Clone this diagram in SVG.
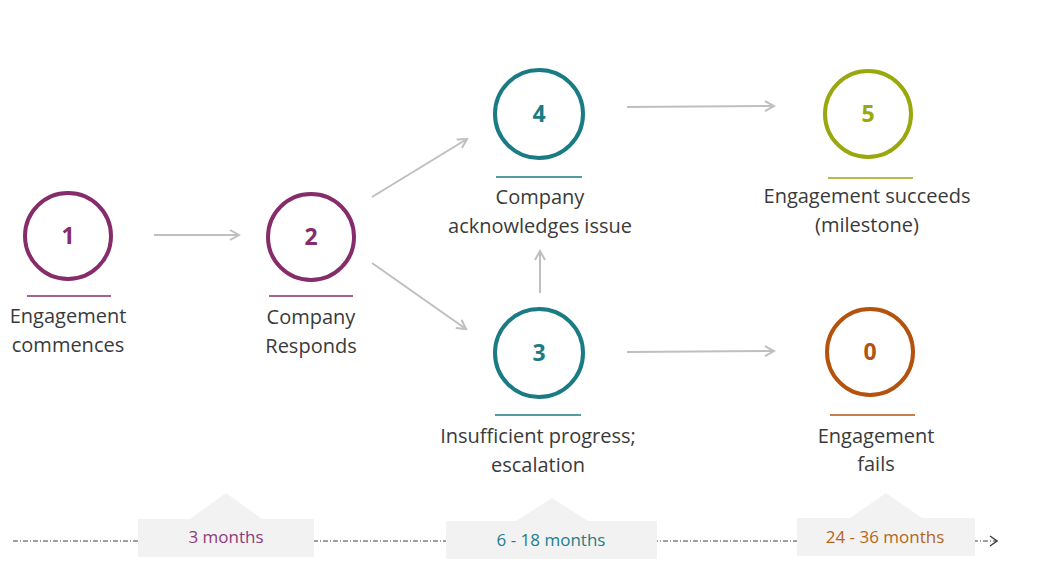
<svg xmlns="http://www.w3.org/2000/svg" width="1041" height="568" viewBox="0 0 1041 568">
<defs>
<marker id="ah" viewBox="0 0 12 12" refX="10" refY="6" markerWidth="12" markerHeight="12" markerUnits="userSpaceOnUse" orient="auto">
<path d="M1,1 L10,6 L1,11" fill="none" stroke="#BFBFBF" stroke-width="2"/>
</marker>
<marker id="ahd" viewBox="0 0 10 12" refX="9" refY="6" markerWidth="10" markerHeight="12" markerUnits="userSpaceOnUse" orient="auto">
<path d="M2,1 L9,6 L2,11" fill="none" stroke="#404040" stroke-width="1.5"/>
</marker>
</defs>
<style>
.lbl{font-family:"Open Sans","Noto Sans",sans-serif;font-size:20px;fill:#3A3A3A;text-anchor:middle}
.num{font-family:"Open Sans","Noto Sans",sans-serif;font-size:23px;font-weight:bold;text-anchor:middle}
.circ{fill:#fff;stroke-width:4}
.ul{stroke-width:1.5}
.conn{stroke:#BFBFBF;stroke-width:2;fill:none;marker-end:url(#ah)}
.tl{font-family:"Open Sans","Noto Sans",sans-serif;font-size:17px;text-anchor:middle}
.box{fill:#F2F2F2}
</style>
<rect width="1041" height="568" fill="#fff"/>
<g id="connectors">
<line class="conn" x1="154" y1="235" x2="239" y2="235"/>
<line class="conn" x1="372" y1="197" x2="467" y2="139"/>
<line class="conn" x1="372" y1="263" x2="466" y2="329"/>
<line class="conn" x1="540" y1="293" x2="540" y2="251"/>
<line class="conn" x1="627" y1="107" x2="774" y2="106"/>
<line class="conn" x1="627" y1="352" x2="774" y2="351"/>
</g>
<g id="node1">
<circle class="circ" cx="68" cy="236" r="43" stroke="#862C6B"/>
<text class="num" x="68" y="244" fill="#862C6B">1</text>
<line class="ul" x1="27" y1="296" x2="111" y2="296" stroke="#862C6B"/>
<text class="lbl" x="68" y="323">Engagement</text>
<text class="lbl" x="68" y="352">commences</text>
</g>
<g id="node2">
<circle class="circ" cx="311" cy="237" r="43" stroke="#862C6B"/>
<text class="num" x="311" y="245" fill="#862C6B">2</text>
<line class="ul" x1="269" y1="296" x2="353" y2="296" stroke="#862C6B"/>
<text class="lbl" x="311" y="324">Company</text>
<text class="lbl" x="311" y="353">Responds</text>
</g>
<g id="node4">
<circle class="circ" cx="539" cy="114" r="44" stroke="#1A7B84"/>
<text class="num" x="539" y="122" fill="#1A7B84">4</text>
<line class="ul" x1="496" y1="177" x2="582" y2="177" stroke="#1A7B84"/>
<text class="lbl" x="540" y="204">Company</text>
<text class="lbl" x="540" y="233">acknowledges issue</text>
</g>
<g id="node5">
<circle class="circ" cx="868" cy="114" r="43" stroke="#99A80C"/>
<text class="num" x="868" y="122" fill="#99A80C">5</text>
<line class="ul" x1="828" y1="178" x2="913" y2="178" stroke="#99A80C"/>
<text class="lbl" x="867" y="203">Engagement succeeds</text>
<text class="lbl" x="867" y="232">(milestone)</text>
</g>
<g id="node3">
<circle class="circ" cx="539" cy="353" r="44" stroke="#1A7B84"/>
<text class="num" x="539" y="361" fill="#1A7B84">3</text>
<line class="ul" x1="495" y1="415" x2="581" y2="415" stroke="#1A7B84"/>
<text class="lbl" x="538" y="443">Insufficient progress;</text>
<text class="lbl" x="538" y="472">escalation</text>
</g>
<g id="node0">
<circle class="circ" cx="870" cy="352" r="43" stroke="#B4530E"/>
<text class="num" x="870" y="360" fill="#B4530E">0</text>
<line class="ul" x1="830" y1="415" x2="915" y2="415" stroke="#B4530E"/>
<text class="lbl" x="876" y="443">Engagement</text>
<text class="lbl" x="876" y="471">fails</text>
</g>
<g id="timeline">
<line x1="13" y1="541" x2="997" y2="541" stroke="#404040" stroke-width="1" stroke-dasharray="5 2 1 2" marker-end="url(#ahd)"/>
</g>
<g id="period1">
<path class="box" d="M138,519 H190 L226,493 L262,519 H314 V557 H138 Z"/>
<text class="tl" x="226" y="543" fill="#8E3A78">3 months</text>
</g>
<g id="period2">
<path class="box" d="M446,521 H516 L552,498 L588,521 H657 V559 H446 Z"/>
<text class="tl" x="551" y="546" fill="#1B7F89">6 - 18 months</text>
</g>
<g id="period3">
<path class="box" d="M797,518 H850 L886,493 L922,518 H975 V556 H797 Z"/>
<text class="tl" x="885" y="543" fill="#B5651D">24 - 36 months</text>
</g>
</svg>
